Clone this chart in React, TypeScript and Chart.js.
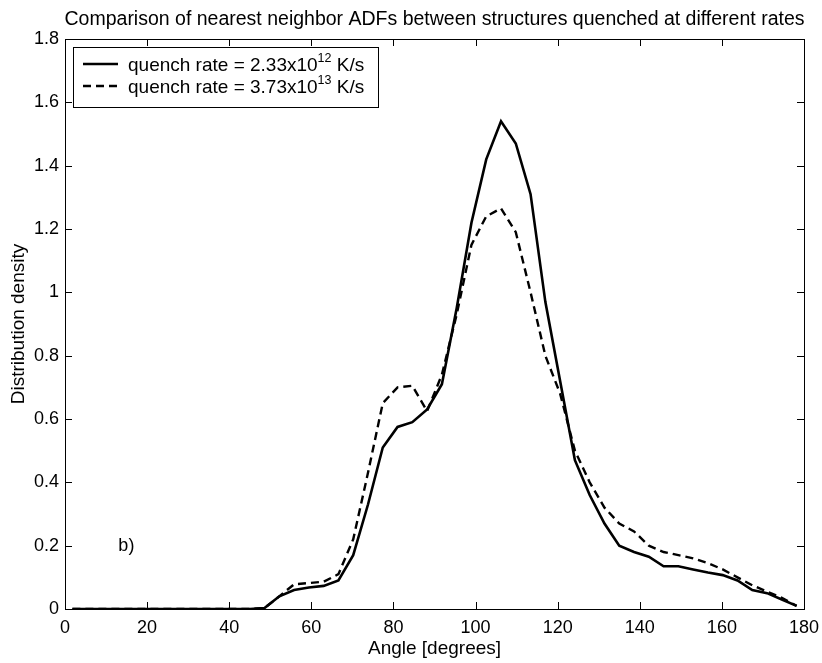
import React, { useEffect, useRef } from 'react';
import { Chart, registerables } from 'chart.js';

Chart.register(...registerables);

const FONT = "'Liberation Sans', Arial, Helvetica, sans-serif";

const titleText = 'Comparison of nearest neighbor ADFs between structures quenched at different rates';
const xTitle = 'Angle [degrees]';
const yTitle = 'Distribution density';

const angles = [
  1.8, 5.4, 9, 12.6, 16.2, 19.8, 23.4, 27, 30.6, 34.2, 37.8, 41.4, 45,
  48.6, 52.2, 55.8, 59.4, 63, 66.6, 70.2, 73.8, 77.4, 81, 84.6, 88.2, 91.8,
  95.4, 99, 102.6, 106.2, 109.8, 113.4, 117, 120.6, 124.2, 127.8, 131.4, 135,
  138.6, 142.2, 145.8, 149.4, 153, 156.6, 160.2, 163.8, 167.4, 171, 174.6, 178.2,
];

const slowQuench = [
  0, 0, 0, 0, 0, 0, 0, 0, 0, 0, 0, 0, 0,
  0.003, 0.04, 0.06, 0.068, 0.073, 0.09, 0.17, 0.33, 0.51, 0.575, 0.59, 0.63, 0.71,
  0.95, 1.22, 1.42, 1.54, 1.47, 1.31, 0.97, 0.72, 0.47, 0.36, 0.27, 0.2,
  0.18, 0.165, 0.135, 0.135, 0.125, 0.115, 0.107, 0.09, 0.06, 0.05, 0.03, 0.01,
];

const fastQuench = [
  0, 0, 0, 0, 0, 0, 0, 0, 0, 0, 0, 0, 0,
  0.003, 0.04, 0.078, 0.082, 0.086, 0.11, 0.22, 0.43, 0.65, 0.7, 0.705, 0.625, 0.74,
  0.93, 1.15, 1.24, 1.265, 1.19, 1.0, 0.8, 0.68, 0.5, 0.4, 0.32, 0.27,
  0.245, 0.2, 0.18, 0.17, 0.16, 0.145, 0.125, 0.1, 0.075, 0.055, 0.035, 0.01,
];

const legendEntries = [
  { base: 'quench rate = 2.33x10', exp: '12', unit: ' K/s', dash: [] as number[] },
  { base: 'quench rate = 3.73x10', exp: '13', unit: ' K/s', dash: [8, 5] },
];

const xTicks = [0, 20, 40, 60, 80, 100, 120, 140, 160, 180];
const yTicks = [0, 0.2, 0.4, 0.6, 0.8, 1, 1.2, 1.4, 1.6, 1.8];

const panelLabel = { text: 'b)', x: 13, y: 0.2 };

const decorPlugin = {
  id: 'matlabDecor',
  afterDraw(chart: any) {
    const { ctx, chartArea: a, scales } = chart;
    const xs = scales.x;
    const ys = scales.y;
    ctx.save();
    ctx.strokeStyle = '#000';
    ctx.lineWidth = 1;
    ctx.setLineDash([]);
    ctx.strokeRect(Math.round(a.left) + 0.5, Math.round(a.top) + 0.5, Math.round(a.right - a.left), Math.round(a.bottom - a.top));
    const tl = 7;
    ctx.beginPath();
    for (const v of xTicks) {
      const px = Math.round(xs.getPixelForValue(v)) + 0.5;
      ctx.moveTo(px, a.bottom);
      ctx.lineTo(px, a.bottom - tl);
      ctx.moveTo(px, a.top);
      ctx.lineTo(px, a.top + tl);
    }
    for (const v of yTicks) {
      const py = Math.round(ys.getPixelForValue(v)) + 0.5;
      ctx.moveTo(a.left, py);
      ctx.lineTo(a.left + tl, py);
      ctx.moveTo(a.right, py);
      ctx.lineTo(a.right - tl, py);
    }
    ctx.stroke();

    // title
    ctx.fillStyle = '#000';
    ctx.font = `19.5px ${FONT}`;
    ctx.textAlign = 'center';
    ctx.textBaseline = 'alphabetic';
    ctx.fillText(titleText, (a.left + a.right) / 2, 25);

    // legend
    const lx = 73, ly = 47, lw = 305, lh = 60;
    ctx.fillStyle = '#fff';
    ctx.fillRect(lx, ly, lw, lh);
    ctx.strokeStyle = '#000';
    ctx.lineWidth = 1;
    ctx.strokeRect(lx + 0.5, ly + 0.5, lw, lh);
    legendEntries.forEach((e, i) => {
      const y = ly + 17 + i * 22;
      ctx.beginPath();
      ctx.setLineDash(e.dash);
      ctx.lineWidth = 2.5;
      ctx.moveTo(83, y);
      ctx.lineTo(118, y);
      ctx.stroke();
      ctx.setLineDash([]);
      ctx.fillStyle = '#000';
      ctx.textAlign = 'left';
      ctx.textBaseline = 'alphabetic';
      ctx.font = `19px ${FONT}`;
      let tx = 128;
      ctx.fillText(e.base, tx, y + 7);
      tx += ctx.measureText(e.base).width;
      ctx.font = `12.5px ${FONT}`;
      ctx.fillText(e.exp, tx, y - 2);
      tx += ctx.measureText(e.exp).width;
      ctx.font = `19px ${FONT}`;
      ctx.fillText(e.unit, tx, y + 7);
    });

    // panel label
    ctx.font = `18px ${FONT}`;
    ctx.textAlign = 'left';
    ctx.textBaseline = 'middle';
    ctx.fillText(panelLabel.text, xs.getPixelForValue(panelLabel.x), ys.getPixelForValue(panelLabel.y));
    ctx.restore();
  },
};

const fmt = (v: any) => String(Number(Number(v).toFixed(1)));

export default function App() {
  const ref = useRef<HTMLCanvasElement | null>(null);
  useEffect(() => {
    document.body.style.margin = '0';
    const canvas = ref.current;
    if (!canvas) return;
    const chart = new Chart(canvas, {
      type: 'line',
      data: {
        datasets: [
          {
            label: 'quench rate = 2.33x10^12 K/s',
            data: angles.map((a, i) => ({ x: a, y: slowQuench[i] })),
            borderColor: '#000',
            borderWidth: 2.6,
            pointRadius: 0,
            tension: 0,
            fill: false,
          },
          {
            label: 'quench rate = 3.73x10^13 K/s',
            data: angles.map((a, i) => ({ x: a, y: fastQuench[i] })),
            borderColor: '#000',
            borderWidth: 2.4,
            borderDash: [8, 5],
            pointRadius: 0,
            tension: 0,
            fill: false,
          },
        ],
      },
      options: {
        animation: false,
        responsive: false,
        devicePixelRatio: 1,
        layout: { padding: { top: 39, right: 18, left: 0, bottom: 0 } },
        plugins: {
          legend: { display: false },
          title: { display: false },
          tooltip: { enabled: false },
        },
        scales: {
          x: {
            type: 'linear',
            min: 0,
            max: 180,
            afterFit: (s: any) => { s.height = 54; s.paddingLeft = 0; s.paddingRight = 0; },
            afterBuildTicks: (s: any) => { s.ticks = xTicks.map((v) => ({ value: v })); },
            ticks: { color: '#000', font: { size: 18, family: FONT }, padding: 8, maxRotation: 0, autoSkip: false, callback: fmt },
            grid: { display: false, drawTicks: false },
            border: { display: false },
            title: { display: true, text: xTitle, color: '#000', font: { size: 19, family: FONT }, padding: { top: 0, bottom: 3 } },
          },
          y: {
            type: 'linear',
            min: 0,
            max: 1.8,
            afterFit: (s: any) => { s.width = 65; s.paddingTop = 0; s.paddingBottom = 0; },
            afterBuildTicks: (s: any) => { s.ticks = yTicks.map((v) => ({ value: v })); },
            ticks: { color: '#000', font: { size: 18, family: FONT }, padding: 6, autoSkip: false, callback: fmt },
            grid: { display: false, drawTicks: false },
            border: { display: false },
            title: { display: true, text: yTitle, color: '#000', font: { size: 19, family: FONT }, padding: { top: 7, bottom: 0 } },
          },
        },
      },
      plugins: [decorPlugin],
    });
    return () => chart.destroy();
  }, []);
  return (
    <div style={{ width: 822, height: 663, background: '#fff' }}>
      <canvas ref={ref} width={822} height={663} style={{ display: 'block' }} />
    </div>
  );
}
